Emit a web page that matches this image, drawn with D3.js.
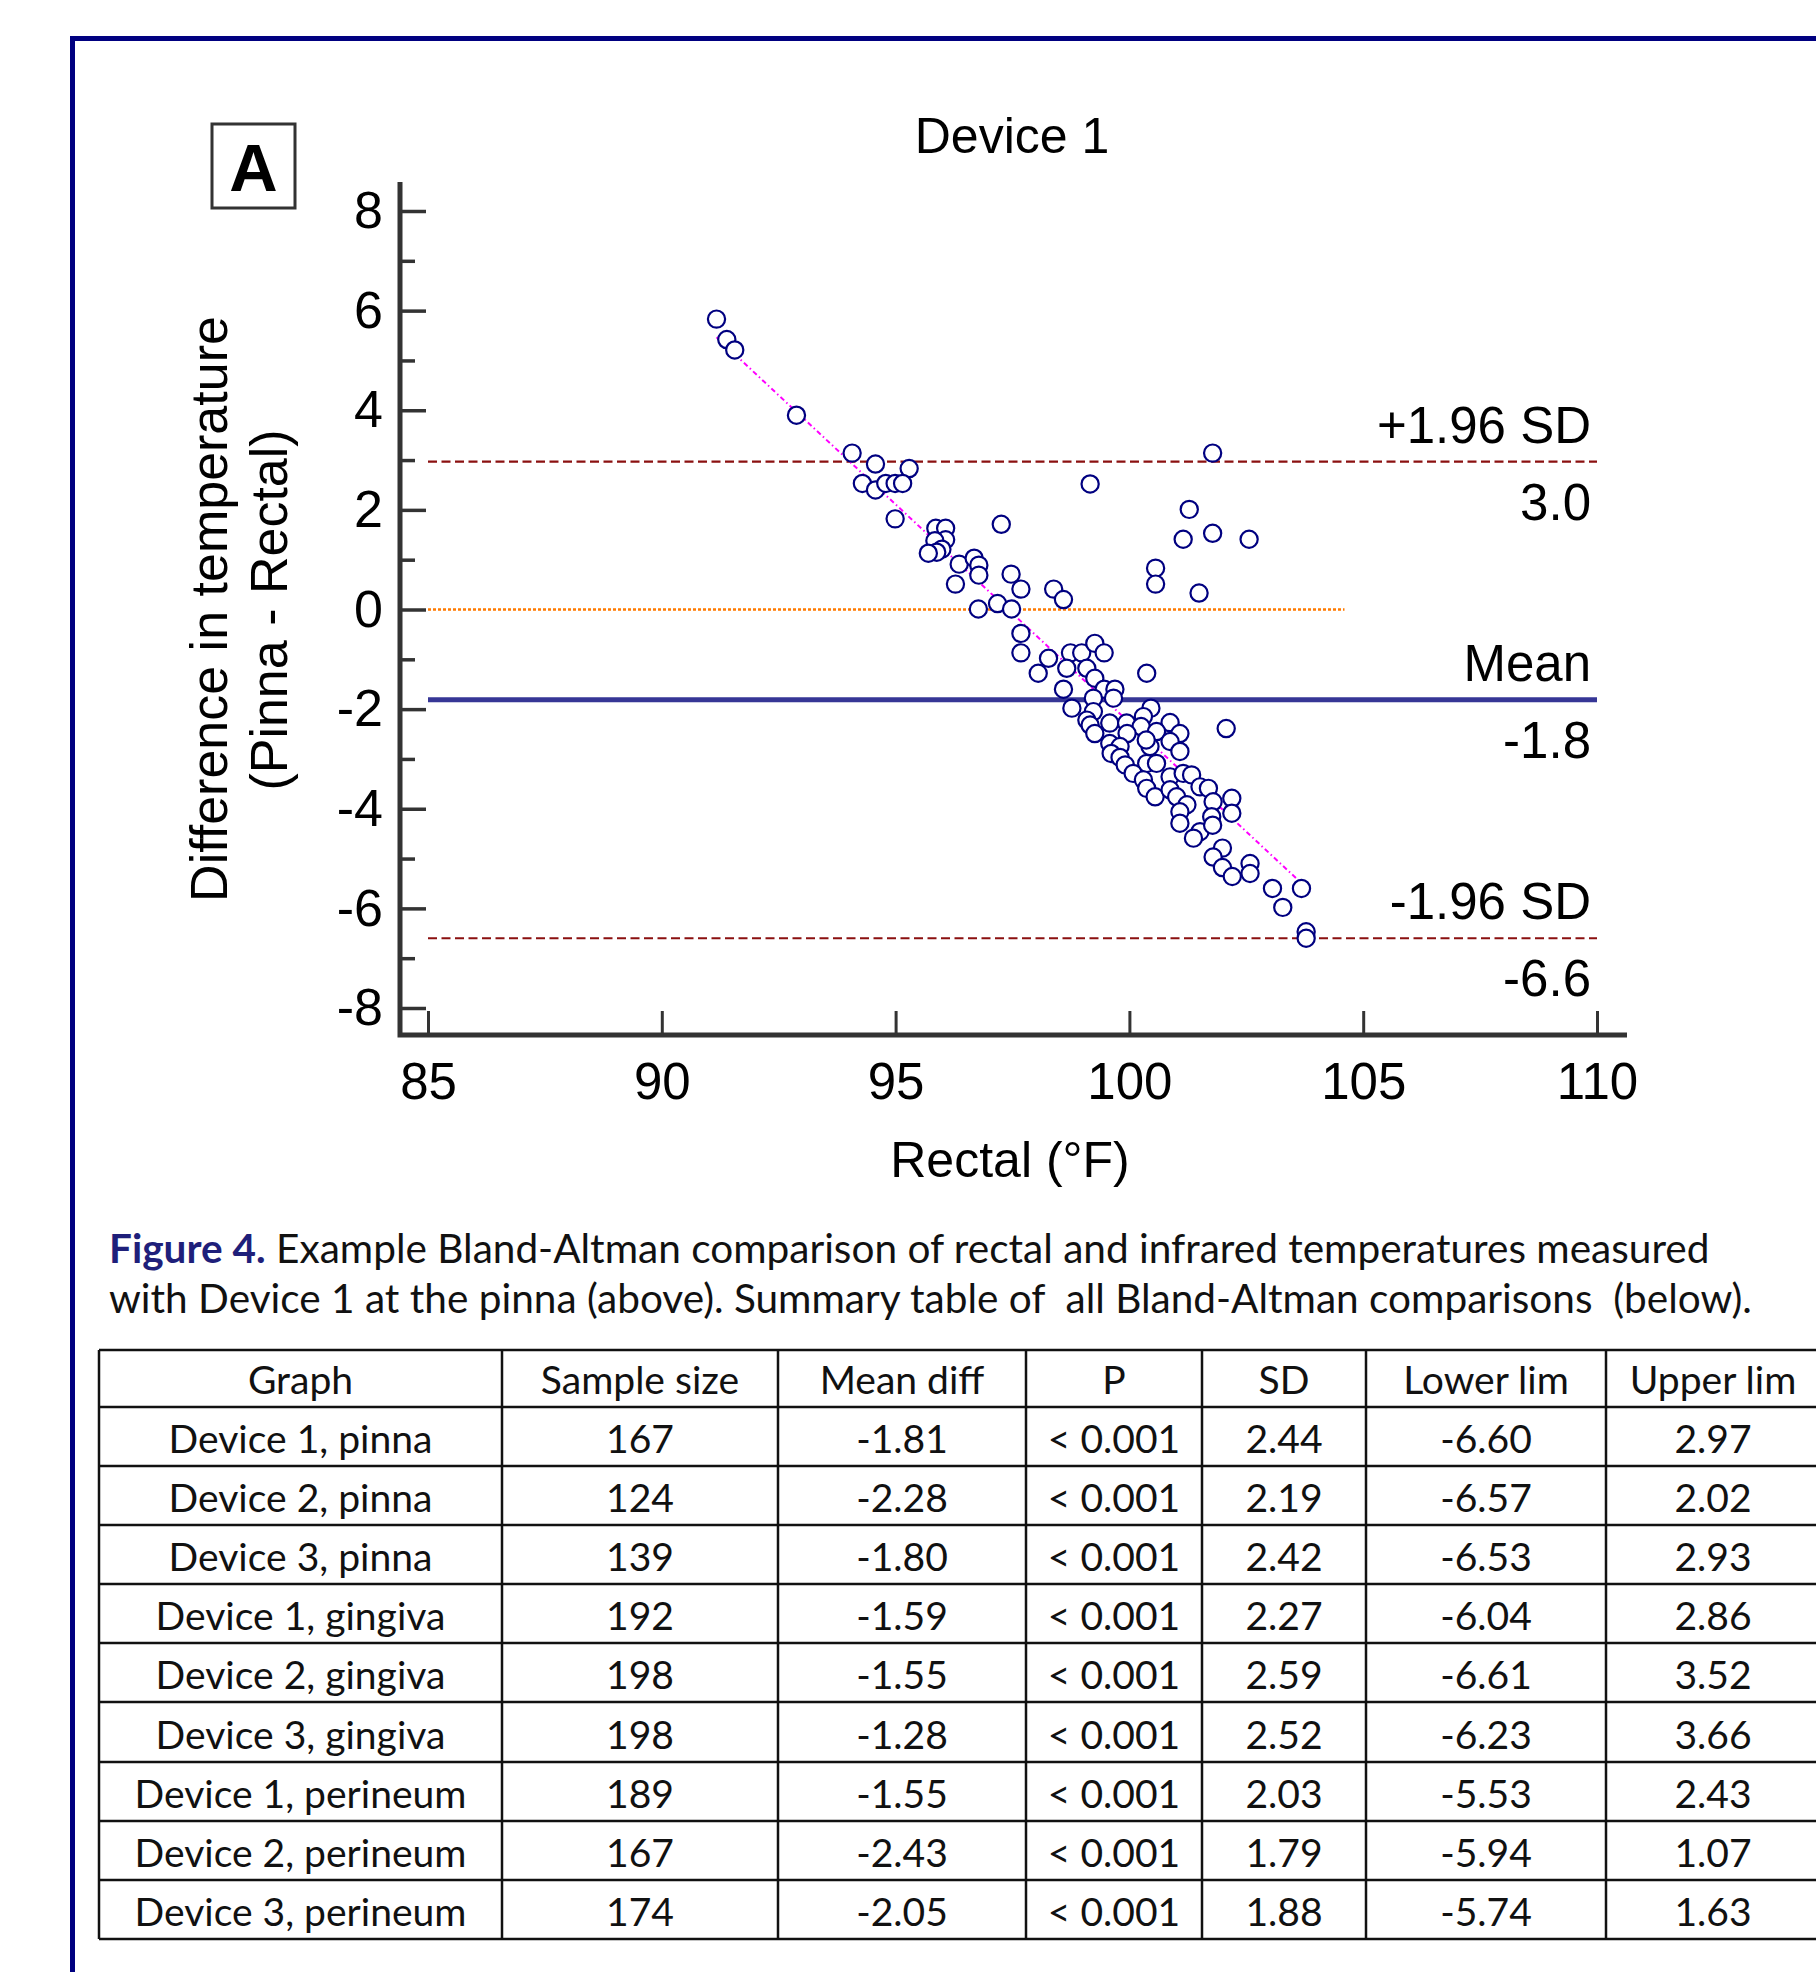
<!DOCTYPE html>
<html>
<head>
<meta charset="utf-8">
<script src="https://cdn.jsdelivr.net/npm/d3@7"></script>
<style>
  body { margin: 0; background: #fff; }
</style>
</head>
<body>
<div id="chart"></div>
<script>
// Bland-Altman data, Device 1 at the pinna
const rectalTemps = [
  91.17, 91.39, 91.56, 92.88, 94.07, 94.57, 95.29, 94.29, 94.57, 94.79,
  94.99, 95.15, 94.99, 95.86, 96.07, 96.07, 95.84, 95.99, 95.88, 95.70,
  96.36, 96.68, 96.78, 96.78, 96.28, 97.26, 99.16, 97.47, 97.68, 98.38,
  98.59, 96.77, 97.18, 97.48, 97.68, 97.68, 98.27, 98.05, 98.74, 98.98,
  99.26, 99.46, 98.66, 99.09, 99.26, 98.59, 99.46, 99.69, 99.66, 99.23,
  100.37, 98.77, 99.23, 100.46, 100.56, 100.56, 101.78, 101.28, 101.15, 101.78,
  102.56, 101.49, 99.09, 99.16, 99.26, 99.58, 99.94, 100.30, 100.25, 100.87,
  100.58, 101.08, 99.95, 99.58, 99.80, 100.87, 100.44, 100.36, 101.08, 99.61,
  99.80, 100.37, 100.58, 99.91, 100.08, 100.30, 100.87, 101.15, 101.33, 100.37,
  100.55, 100.87, 101.01, 101.23, 101.51, 101.69, 101.79, 101.08, 101.76, 102.07,
  102.19, 102.19, 101.08, 101.51, 101.37, 101.78, 101.99, 101.79, 101.99, 102.20,
  102.58, 102.58, 103.06, 103.68, 103.28, 103.78, 103.78
];
const tempDiffs = [
  5.83, 5.42, 5.21, 3.90, 3.14, 2.92, 2.83, 2.53, 2.40, 2.53,
  2.53, 2.53, 1.82, 1.63, 1.63, 1.40, 1.38, 1.21, 1.15, 1.13,
  0.91, 1.03, 0.89, 0.69, 0.51, 1.71, 2.52, 0.71, 0.41, 0.41,
  0.20, 0.01, 0.12, 0.01, -0.48, -0.87, -0.98, -1.28, -0.87, -0.87,
  -0.68, -0.87, -1.18, -1.18, -1.38, -1.60, -1.60, -1.60, -1.78, -1.78,
  -1.28, -1.98, -2.05, -1.98, 0.83, 0.51, 3.14, 2.01, 1.41, 1.53,
  1.41, 0.33, -2.22, -2.32, -2.49, -2.28, -2.28, -2.15, -2.35, -2.27,
  -2.45, -2.49, -2.49, -2.69, -2.75, -2.65, -2.75, -2.62, -2.85, -2.89,
  -2.97, -3.09, -3.09, -3.12, -3.29, -3.42, -3.36, -3.29, -3.32, -3.59,
  -3.76, -3.62, -3.76, -3.92, -3.56, -3.59, -3.86, -4.06, -4.16, -2.39,
  -3.79, -4.09, -4.29, -4.46, -4.59, -4.33, -4.79, -4.97, -5.18, -5.36,
  -5.10, -5.30, -5.60, -5.60, -5.98, -6.47, -6.60
];

const meanDiff = -1.81;
const upperLimit = 2.97;
const lowerLimit = -6.60;
const zeroLineEnd = 104.6;
const fitIntercept = 85.33;
const fitSlope = -0.876;

const xTicks = [85, 90, 95, 100, 105, 110];
const yTicks = [-8, -6, -4, -2, 0, 2, 4, 6, 8];
const yMinorTicks = [-7, -5, -3, -1, 1, 3, 5, 7];

// summary table
const tableHeaders = ["Graph", "Sample size", "Mean diff", "P", "SD", "Lower lim", "Upper lim"];
const graphNames = [
  "Device 1, pinna", "Device 2, pinna", "Device 3, pinna",
  "Device 1, gingiva", "Device 2, gingiva", "Device 3, gingiva",
  "Device 1, perineum", "Device 2, perineum", "Device 3, perineum"
];
const sampleSizes = [167, 124, 139, 192, 198, 198, 189, 167, 174];
const meanDiffs = [-1.81, -2.28, -1.80, -1.59, -1.55, -1.28, -1.55, -2.43, -2.05];
const pValues = ["< 0.001", "< 0.001", "< 0.001", "< 0.001", "< 0.001", "< 0.001", "< 0.001", "< 0.001", "< 0.001"];
const sds = [2.44, 2.19, 2.42, 2.27, 2.59, 2.52, 2.03, 1.79, 1.88];
const lowerLims = [-6.60, -6.57, -6.53, -6.04, -6.61, -6.23, -5.53, -5.94, -5.74];
const upperLims = [2.97, 2.02, 2.93, 2.86, 3.52, 3.66, 2.43, 1.07, 1.63];

const width = 1816;
const height = 1972;
const chartFont = "'Liberation Sans', Arial, sans-serif";
const textFont = "Lato, 'Open Sans', sans-serif";
const axisColor = "#333333";
const frameColor = "#000080";

const svg = d3.select("#chart")
  .append("svg")
  .attr("width", width)
  .attr("height", height)
  .style("font-family", chartFont);

const hyphen = s => s.replace("\u2212", "-");
const fmt1 = v => hyphen(d3.format(".1f")(v));

// outer frame (left and top edges only are on the page)
svg.append("path")
  .attr("d", `M72.5,${height} V38.5 H${width}`)
  .attr("fill", "none")
  .attr("stroke", frameColor)
  .attr("stroke-width", 5);

// panel letter
svg.append("rect")
  .attr("x", 212).attr("y", 124)
  .attr("width", 83).attr("height", 84)
  .attr("fill", "none")
  .attr("stroke", "#333")
  .attr("stroke-width", 3);
svg.append("text")
  .attr("x", 253.5).attr("y", 191)
  .attr("text-anchor", "middle")
  .attr("font-size", "67px")
  .attr("font-weight", "bold")
  .text("A");

const x = d3.scaleLinear().domain([85, 110]).range([428, 1597]);
const y = d3.scaleLinear().domain([-8, 8]).range([1008, 211]);

const axisLeftX = 400;
const axisBottomY = 1035;

// title
svg.append("text")
  .attr("x", 1012).attr("y", 153)
  .attr("text-anchor", "middle")
  .attr("font-size", "50px")
  .text("Device 1");

// axis frame lines
svg.append("path")
  .attr("d", `M${axisLeftX},182 V${axisBottomY} H1627`)
  .attr("fill", "none")
  .attr("stroke", axisColor)
  .attr("stroke-width", 5);

const yAxis = svg.append("g")
  .attr("transform", `translate(${axisLeftX},0)`)
  .call(d3.axisLeft(y).tickValues(yTicks).tickSize(-26).tickPadding(17)
    .tickFormat(d => hyphen(d3.format("d")(d))));
yAxis.select(".domain").remove();
yAxis.selectAll("line").attr("stroke", axisColor).attr("stroke-width", 3.5);
yAxis.selectAll("text").attr("font-size", "52px").attr("font-family", chartFont).attr("fill", "#000");

const yMinor = svg.append("g")
  .attr("transform", `translate(${axisLeftX},0)`)
  .call(d3.axisLeft(y).tickValues(yMinorTicks).tickSize(-15).tickFormat(""));
yMinor.select(".domain").remove();
yMinor.selectAll("line").attr("stroke", axisColor).attr("stroke-width", 3.5);

const xAxis = svg.append("g")
  .attr("transform", `translate(0,${axisBottomY})`)
  .call(d3.axisBottom(x).tickValues(xTicks).tickSize(-24).tickPadding(28));
xAxis.select(".domain").remove();
xAxis.selectAll("line").attr("stroke", axisColor).attr("stroke-width", 3);
xAxis.selectAll("text").attr("font-size", "51px").attr("font-family", chartFont).attr("fill", "#000");

// axis titles
svg.append("text")
  .attr("transform", `translate(227,609) rotate(-90)`)
  .attr("text-anchor", "middle")
  .attr("font-size", "52px")
  .text("Difference in temperature");
svg.append("text")
  .attr("transform", `translate(287,610) rotate(-90)`)
  .attr("text-anchor", "middle")
  .attr("font-size", "52px")
  .text("(Pinna - Rectal)");
svg.append("text")
  .attr("x", 1010).attr("y", 1177)
  .attr("text-anchor", "middle")
  .attr("font-size", "50px")
  .text("Rectal (°F)");

// reference lines start just inside the axis, at x = 85
const lineStart = x(85);
svg.append("line")
  .attr("x1", lineStart).attr("x2", x(zeroLineEnd))
  .attr("y1", y(0)).attr("y2", y(0))
  .attr("stroke", "#ff7a00")
  .attr("stroke-width", 2.5)
  .attr("stroke-dasharray", "3,2");

[upperLimit, lowerLimit].forEach(v => {
  svg.append("line")
    .attr("x1", lineStart).attr("x2", x(110))
    .attr("y1", y(v)).attr("y2", y(v))
    .attr("stroke", "#8b1010")
    .attr("stroke-width", 2.2)
    .attr("stroke-dasharray", "9,4.5");
});

svg.append("line")
  .attr("x1", lineStart).attr("x2", x(110))
  .attr("y1", y(meanDiff)).attr("y2", y(meanDiff))
  .attr("stroke", "#363696")
  .attr("stroke-width", 5);

// regression line across data range
const xExtent = d3.extent(rectalTemps);
svg.append("line")
  .attr("x1", x(xExtent[0])).attr("y1", y(fitIntercept + fitSlope * xExtent[0]))
  .attr("x2", x(xExtent[1])).attr("y2", y(fitIntercept + fitSlope * xExtent[1]))
  .attr("stroke", "#ff00ff")
  .attr("stroke-width", 2)
  .attr("stroke-dasharray", "5,3,1.5,3");

// points
svg.append("g")
  .selectAll("circle")
  .data(rectalTemps.map((t, i) => [t, tempDiffs[i]]))
  .join("circle")
  .attr("cx", d => x(d[0]))
  .attr("cy", d => y(d[1]))
  .attr("r", 8.6)
  .attr("fill", "#fff")
  .attr("stroke", "#000080")
  .attr("stroke-width", 2.2);

// limit labels
const labelRight = 1591;
const limitLabels = [
  [upperLimit, "+1.96 SD"],
  [meanDiff, "Mean"],
  [lowerLimit, "-1.96 SD"]
];
limitLabels.forEach(([v, name]) => {
  svg.append("text")
    .attr("x", labelRight).attr("y", y(v) - 19)
    .attr("text-anchor", "end")
    .attr("font-size", "51px")
    .text(name);
  svg.append("text")
    .attr("x", labelRight).attr("y", y(v) + 58)
    .attr("text-anchor", "end")
    .attr("font-size", "51px")
    .text(fmt1(v));
});

// caption
function fitFont(sel, target) {
  const w = sel.node().getComputedTextLength();
  const fs = parseFloat(sel.attr("font-size"));
  return fs * target / w;
}

const cap1 = svg.append("text")
  .attr("x", 109).attr("y", 1263)
  .attr("font-family", textFont)
  .attr("font-size", 38)
  .style("white-space", "pre");
cap1.append("tspan").attr("font-weight", "bold").attr("fill", "#1f1f7a").text("Figure 4.");
cap1.append("tspan").attr("fill", "#111").text(" Example Bland-Altman comparison of rectal and infrared temperatures measured");
const capSize = fitFont(cap1, 1601);
cap1.attr("font-size", capSize);

svg.append("text")
  .attr("x", 109).attr("y", 1313)
  .attr("font-family", textFont)
  .attr("font-size", capSize)
  .attr("fill", "#111")
  .style("white-space", "pre")
  .text("with Device 1 at the pinna (above). Summary table of  all Bland-Altman comparisons  (below).");

// table
const colEdges = [99, 502, 778, 1026, 1202, 1366, 1606, 1820];
const rowEdges = [1350, 1407, 1466, 1525, 1584, 1643, 1702, 1762, 1821, 1880, 1939];
const table = svg.append("g").attr("font-family", textFont);

const probe = table.append("text").attr("font-size", 38).text("Device 1, perineum");
const tableSize = fitFont(probe, 332);
probe.remove();

const rows = [tableHeaders].concat(graphNames.map((g, i) => [
  g,
  String(sampleSizes[i]),
  meanDiffs[i].toFixed(2),
  pValues[i],
  sds[i].toFixed(2),
  lowerLims[i].toFixed(2),
  upperLims[i].toFixed(2)
]));

rows.forEach((cells, r) => {
  const top = rowEdges[r];
  const h = rowEdges[r + 1] - top;
  cells.forEach((c, j) => {
    table.append("text")
      .attr("x", (colEdges[j] + colEdges[j + 1]) / 2)
      .attr("y", top + h * 0.78)
      .attr("text-anchor", "middle")
      .attr("font-size", tableSize)
      .attr("fill", "#111")
      .text(c);
  });
});

rowEdges.forEach(ry => {
  table.append("line")
    .attr("x1", colEdges[0]).attr("x2", colEdges[colEdges.length - 1])
    .attr("y1", ry).attr("y2", ry)
    .attr("stroke", "#111").attr("stroke-width", 2.5);
});
colEdges.forEach(cx => {
  table.append("line")
    .attr("x1", cx).attr("x2", cx)
    .attr("y1", rowEdges[0]).attr("y2", rowEdges[rowEdges.length - 1])
    .attr("stroke", "#111").attr("stroke-width", 2.5);
});
</script>
</body>
</html>
